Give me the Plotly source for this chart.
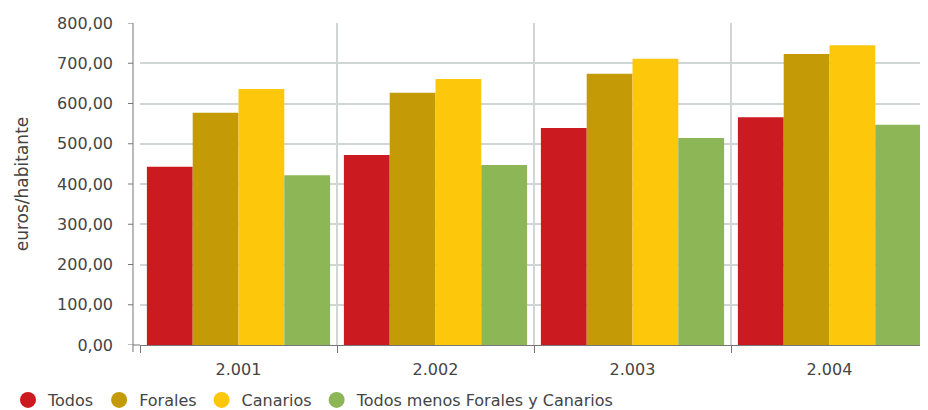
import plotly.graph_objects as go

years = ["2.001", "2.002", "2.003", "2.004"]
series_names = ["Todos", "Forales", "Canarios", "Todos menos Forales y Canarios"]
todos = [443, 472, 539, 566]
forales = [577, 627, 674, 723]
canarios = [636, 661, 711, 745]
resto = [422, 447, 514, 547]
colors = ["#cc1a21", "#c49b07", "#fdc70c", "#8db657"]
y_ticks = [0, 100, 200, 300, 400, 500, 600, 700, 800]

values = [todos, forales, canarios, resto]

fig = go.Figure()
for name, vals, col in zip(series_names, values, colors):
    fig.add_trace(go.Bar(x=years, y=vals, name=name, marker_color=col,
                         marker_line_width=0, showlegend=False))
for name, col in zip(series_names, colors):
    fig.add_trace(go.Scatter(x=[None], y=[None], mode="markers", name=name,
                             marker=dict(color=col, size=21, symbol="circle")))

W, H = 928, 410
font = "DejaVu Sans"
axis_col = "#777777"
grid_col = "#cfd6d5"

# plot area (figure pixel coordinates)
px_l, px_r, px_t, px_b = 132, 920, 15, 337
dom_x = [px_l / W, px_r / W]
dom_y = [(H - px_b) / H, (H - px_t) / H]
ax_x = (px_l - 7) / W

shapes = [dict(type="line", xref="paper", yref="paper", x0=ax_x, x1=ax_x,
               y0=dom_y[0], y1=dom_y[1], line=dict(color=axis_col, width=1)),
          dict(type="line", xref="paper", yref="paper", x0=ax_x, x1=dom_x[0],
               y0=dom_y[0], y1=dom_y[0], line=dict(color=axis_col, width=1)),
          dict(type="line", xref="paper", yref="paper", x0=ax_x, x1=ax_x,
               y0=dom_y[0], y1=dom_y[0] - 7 / H, line=dict(color=axis_col, width=1))]
for t in y_ticks:
    shapes.append(dict(type="line", xref="paper", yref="y", x0=ax_x - 5 / W,
                       x1=ax_x, y0=t, y1=t, line=dict(color=axis_col, width=1)))

fig.update_layout(
    width=W, height=H,
    margin=dict(l=0, r=0, t=0, b=0),
    plot_bgcolor="white", paper_bgcolor="white",
    barmode="group", bargap=0.07, bargroupgap=0,
    separators=",.",
    font=dict(family=font, color="#444444", size=15),
    showlegend=True,
    legend=dict(orientation="h", x=0.0, xanchor="left",
                y=(H - 392) / H, yanchor="middle", bgcolor="rgba(0,0,0,0)",
                font=dict(size=16, color="#444444"), itemsizing="trace",
                itemwidth=30, tracegroupgap=0),
    xaxis=dict(type="category", domain=dom_x, tickson="boundaries", showgrid=True,
               gridcolor=grid_col, gridwidth=1.5, ticks="outside", ticklen=7,
               tickcolor=axis_col, showline=True, linecolor=axis_col,
               linewidth=1, tickfont=dict(size=16), ticklabelstandoff=10,
               automargin=False),
    yaxis=dict(range=[0, 800], domain=dom_y, tickvals=y_ticks, tickformat=".2f",
               showgrid=True, gridcolor=grid_col, gridwidth=1.5, ticks="",
               ticklabelstandoff=26, showline=False, zeroline=False,
               automargin=False,
               title=dict(text="euros/habitante", font=dict(size=17), standoff=24),
               tickfont=dict(size=16)),
    shapes=shapes,
)
fig.write_html("out.html")
